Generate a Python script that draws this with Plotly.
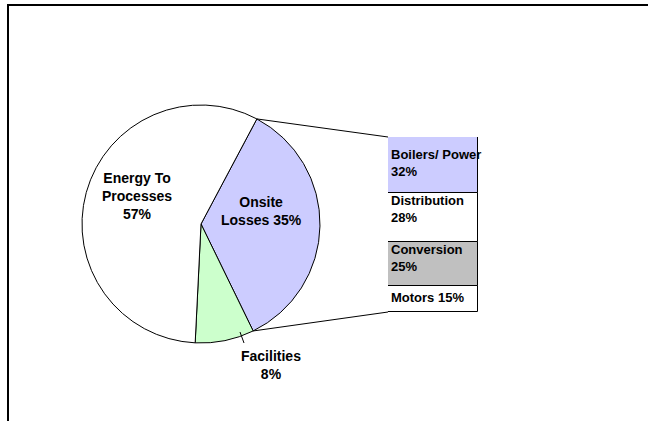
import math
import plotly.graph_objects as go

# ---------------- data ----------------
pie_labels = ["Onsite Losses", "Facilities", "Energy To Processes"]
pie_values = [35, 8, 57]
pie_text = ["Onsite<br>Losses 35%", "Facilities<br>8%", "Energy To<br>Processes<br>57%"]

bar_labels = ["Motors", "Conversion", "Distribution", "Boilers/ Power"]
bar_values = [15, 25, 28, 32]
bar_text = ["Motors 15%", "Conversion<br>25%", "Distribution<br>28%", "Boilers/ Power<br>32%"]

# ---------------- styles ----------------
pie_colors = ["#CCCCFF", "#CCFFCC", "#FFFFFF"]
bar_colors = ["#FFFFFF", "#C0C0C0", "#FFFFFF", "#CCCCFF"]
FONT = "Liberation Sans, Arial, sans-serif"

W, H = 648, 421
# pie geometry in pixels
CX, CY, R = 201, 224, 119
ROT = 28
# bar geometry in pixels
BX0, BX1, BYT, BYB = 388, 478, 137, 312

# label positions (pixel centres) for the pie
pie_label_pos = {"Onsite Losses": (261, 211), "Facilities": (271, 365),
                 "Energy To Processes": (137, 196)}
bar_label_shift = {"Motors": 1, "Conversion": 6, "Distribution": 9, "Boilers/ Power": 2}


def px(x):
    return x / W


def py(y):
    return 1 - y / H


fig = go.Figure()

fig.add_trace(go.Pie(
    labels=pie_labels, values=pie_values, sort=False, direction="clockwise",
    rotation=ROT, textinfo="none", hoverinfo="label+percent",
    marker=dict(colors=pie_colors, line=dict(color="black", width=1)),
    domain=dict(x=[px(CX - R), px(CX + R)], y=[py(CY + R), py(CY - R)]),
    showlegend=False,
))

base = 0
bases = []
for v in bar_values:
    bases.append(base)
    base += v

for lab, v, b, c in zip(bar_labels, bar_values, bases, bar_colors):
    fig.add_trace(go.Bar(
        x=[0], y=[v], base=[b], name=lab, width=1,
        marker=dict(color=c, line=dict(color="black", width=1)),
        xaxis="x2", yaxis="y2", showlegend=False, hoverinfo="name+y",
    ))

annotations = []
for lab, t in zip(pie_labels, pie_text):
    x, y = pie_label_pos[lab]
    annotations.append(dict(
        x=px(x), y=py(y), xref="paper", yref="paper", text="<b>" + t + "</b>",
        showarrow=False, align="center", xanchor="center", yanchor="middle",
        font=dict(family=FONT, size=14, color="black"),
    ))

for lab, t, v, b in zip(bar_labels, bar_text, bar_values, bases):
    annotations.append(dict(
        x=-0.5, y=b + v / 2, xref="x2", yref="y2", text="<b>" + t + "</b>",
        showarrow=False, align="left", xanchor="left", yanchor="middle",
        xshift=1, yshift=bar_label_shift[lab],
        font=dict(family=FONT, size=13, color="black"),
    ))

# connector lines from the exploded slice to the bar
total = sum(pie_values)
a0 = math.radians(ROT)
a1 = math.radians(ROT + 360 * pie_values[0] / total)
p0 = (CX + R * math.sin(a0), CY - R * math.cos(a0))
p1 = (CX + R * math.sin(a1), CY - R * math.cos(a1))

shapes = [
    dict(type="line", xref="paper", yref="paper", x0=px(p0[0]), y0=py(p0[1]),
         x1=px(BX0), y1=py(BYT), line=dict(color="black", width=1)),
    dict(type="line", xref="paper", yref="paper", x0=px(p1[0]), y0=py(p1[1]),
         x1=px(BX0), y1=py(BYB), line=dict(color="black", width=1)),
    # leader line for Facilities
    dict(type="line", xref="paper", yref="paper", x0=px(240), y0=py(332),
         x1=px(244), y1=py(343), line=dict(color="black", width=1)),
    # chart frame (top and left edges)
    dict(type="line", xref="paper", yref="paper", x0=px(7), y0=py(5),
         x1=1.0, y1=py(5), line=dict(color="black", width=2)),
    dict(type="line", xref="paper", yref="paper", x0=px(8), y0=py(4),
         x1=px(8), y1=0.0, line=dict(color="black", width=2)),
]

fig.update_layout(
    width=W, height=H, margin=dict(l=0, r=0, t=0, b=0),
    paper_bgcolor="white", plot_bgcolor="rgba(0,0,0,0)",
    barmode="overlay", bargap=0,
    xaxis2=dict(domain=[px(BX0), px(BX1)], range=[-0.5, 0.5], visible=False,
                anchor="y2", fixedrange=True),
    yaxis2=dict(domain=[py(BYB), py(BYT)], range=[0, 100], visible=False,
                anchor="x2", fixedrange=True),
    xaxis=dict(visible=False), yaxis=dict(visible=False),
    annotations=annotations, shapes=shapes,
    font=dict(family=FONT),
)

fig.write_html("out.html", config={"displayModeBar": False},
               post_script="document.body.style.margin='0';document.body.style.overflow='hidden';")
